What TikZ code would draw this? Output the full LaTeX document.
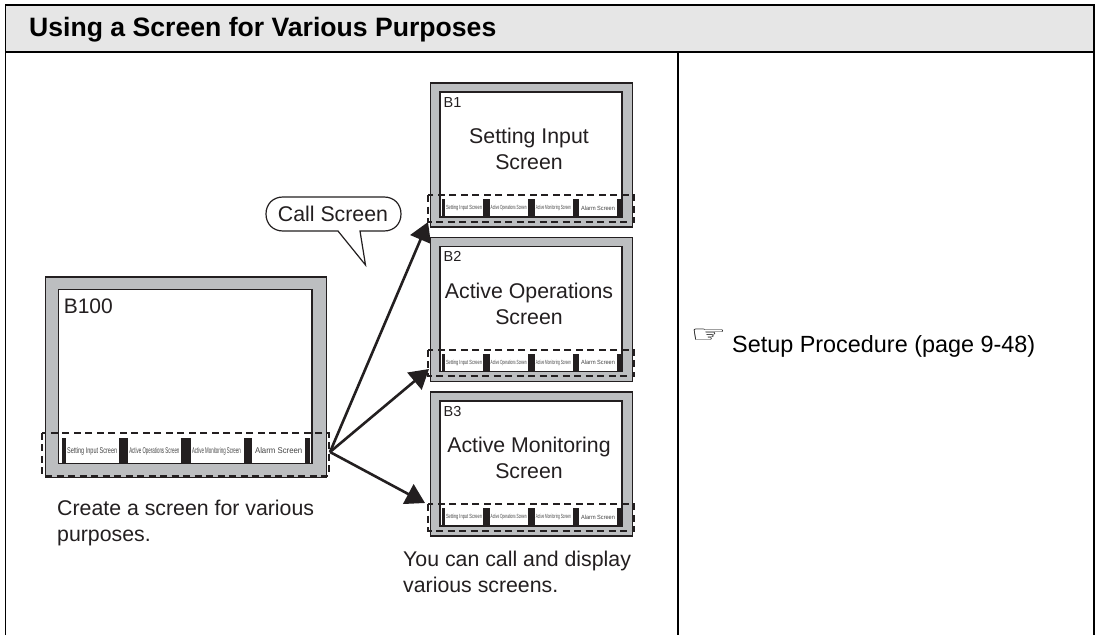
\documentclass[tikz,border=0pt]{standalone}
\usepackage{fontspec}
\usepackage{graphicx}
\setmainfont{Liberation Sans}
\newfontfamily\dejavu{DejaVu Sans}
\usetikzlibrary{arrows.meta}
\definecolor{ink}{HTML}{231F20}
\definecolor{bezel}{HTML}{BCBEC0}
\definecolor{headfill}{HTML}{E6E6E6}
\definecolor{btntext}{HTML}{444444}
\tikzset{
  frameline/.style={draw=black,line width=1.9pt},
  bezelbox/.style={draw=ink,fill=bezel,line width=1.2pt},
  screenbox/.style={draw=ink,fill=white,line width=1.2pt},
  barfill/.style={fill=ink,draw=none},
  dashzone/.style={draw=ink,line width=2pt,dash pattern=on 7pt off 4.5pt},
  bigtext/.style={font=\fontsize{21.3}{26}\selectfont,text=ink,inner sep=0pt},
  btnlabel/.style={text=btntext,inner sep=0pt,font=\fontsize{10}{10}\selectfont},
  callarrow/.style={draw=ink,line width=2.6pt,-{Triangle[length=19pt,width=22pt]}},
}
% name, x, y, scale, dash bottom, title, label, label size
\newcommand{\scr}[8]{%
  \pgfmathsetmacro{\ysc}{0.6*#4}%
  \pgfmathsetmacro{\ylab}{24+(#4-1)*6}%
  \begin{scope}[shift={(#2,#3)},x=#4pt,y=-#4pt]
    \draw[bezelbox] (0,0) rectangle (202,144);
    \draw[screenbox] (9.5,9) rectangle (191.5,134);
    \foreach \a/\b in {11.5/14.5,52.7/59.4,97.5/104.2,142.3/148.5,186.6/190} {
      \fill[barfill] (\a,116) rectangle (\b,134);
    }
    \node[btnlabel] (#1-b1) at (33.5,125) {\scalebox{\fpeval{0.397*#4}}[\ysc]{Setting Input Screen}};
    \node[btnlabel] (#1-b2) at (78.2,125) {\scalebox{\fpeval{0.318*#4}}[\ysc]{Active Operations Screen}};
    \node[btnlabel] (#1-b3) at (122.8,125) {\scalebox{\fpeval{0.315*#4}}[\ysc]{Active Monitoring Screen}};
    \node[btnlabel] (#1-b4) at (167.5,125) {\scalebox{\fpeval{0.56*#4}}[\ysc]{Alarm Screen}};
    \draw[dashzone] (-2.3,112) rectangle (203.5,#5);
    \node[anchor=base west,inner sep=0pt,text=ink,font=\fontsize{#8}{#8}\selectfont] (#1-l) at (13,\ylab) {#7};
    \node[bigtext,align=center,anchor=north] (#1-t) at (98.5,45) {#6};
  \end{scope}}
\begin{document}
\begin{tikzpicture}[x=1pt,y=-1pt]
\useasboundingbox (0,0) rectangle (1097,635);
\fill[white] (0,0) rectangle (1097,635);
% table
\fill[headfill] (5.5,5) rectangle (1094,52);
\draw[frameline] (5.5,635) -- (5.5,5) -- (1094,5) -- (1094,635);
\draw[frameline] (5.5,52) -- (1094,52);
\draw[frameline] (678,52) -- (678,635);
\node[anchor=base west,inner sep=0pt,font=\fontsize{26.6}{28}\selectfont\bfseries] (head) at (29,36.5) {Using a Screen for Various Purposes};
% screens
\scr{Bmain}{45.5}{277}{1.392}{143}{}{B100}{21}
\scr{Bone}{430.5}{83}{1}{138.7}{Setting Input\\Screen}{B1}{14.5}
\scr{Btwo}{430.5}{237.5}{1}{138.7}{Active Operations\\Screen}{B2}{14.5}
\scr{Bthree}{430.5}{392}{1}{138.7}{Active Monitoring\\Screen}{B3}{14.5}
% captions
\node[bigtext,align=left,anchor=north west] (cap1) at (57,500) {Create a screen for various\\purposes.};
\node[bigtext,align=left,anchor=north west] (cap2) at (403,551) {You can call and display\\various screens.};
% callout
\draw[draw=ink,fill=white,line width=1.2pt] (283,197) -- (384,197)
  .. controls (394,197) and (401,204) .. (401,214)
  .. controls (401,224) and (394,231) .. (384,231)
  -- (360,231) -- (365.5,265) -- (338,231) -- (283,231)
  .. controls (273,231) and (266,224) .. (266,214)
  .. controls (266,204) and (273,197) .. (283,197) -- cycle;
\node[bigtext] (calltext) at (333,214) {Call Screen};
% arrows
\coordinate (hub) at (330,452);
\coordinate (tipA) at (428,222);
\coordinate (tipB) at (429,369);
\coordinate (tipC) at (425,503);
\draw[callarrow] (hub) -- (tipA);
\draw[callarrow] (hub) -- (tipB);
\draw[callarrow] (hub) -- (tipC);
% reference
\node[inner sep=0pt,font=\dejavu\fontsize{30}{30}\selectfont,text=black] (hand) at (708.5,336) {\scalebox{1.35}[0.78]{☞}};
\node[anchor=base west,inner sep=0pt,text=black,font=\fontsize{23.4}{26}\selectfont] (setup) at (732,352) {Setup Procedure (page 9-48)};
\end{tikzpicture}
\end{document}
